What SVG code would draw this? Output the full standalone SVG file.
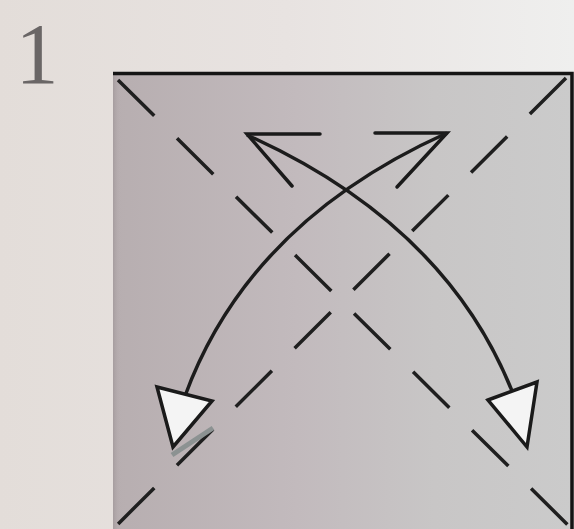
<svg xmlns="http://www.w3.org/2000/svg" width="574" height="529" viewBox="0 0 574 529">
  <defs>
    <linearGradient id="bg" x1="0" y1="0" x2="1" y2="0">
      <stop offset="0" stop-color="#e3ddd9"/>
      <stop offset="0.5" stop-color="#e8e3e1"/>
      <stop offset="1" stop-color="#efefee"/>
    </linearGradient>
    <linearGradient id="paperFill" gradientUnits="userSpaceOnUse" x1="113" y1="0" x2="572" y2="0">
      <stop offset="0" stop-color="#b7aeb0"/>
      <stop offset="0.4" stop-color="#c2babd"/>
      <stop offset="0.7" stop-color="#c8c6c6"/>
      <stop offset="1" stop-color="#cbcbcb"/>
    </linearGradient>
    <linearGradient id="edgeShade" x1="0" y1="0" x2="1" y2="0">
      <stop offset="0" stop-color="#a69d9f"/>
      <stop offset="1" stop-color="#b7aeb0" stop-opacity="0"/>
    </linearGradient>
  </defs>
  <style>
    .edge { stroke: #151515; stroke-width: 3.5; fill: none; }
    .fold { stroke: #1f1f1f; stroke-width: 3.5; fill: none; stroke-dasharray: 51 32; }
    .arc { stroke: #1c1c1c; stroke-width: 3.5; fill: none; }
    .mark { stroke: #1a1a1a; stroke-width: 3.5; fill: none; stroke-linecap: round; }
    .head { fill: #f4f4f4; stroke: #1a1a1a; stroke-width: 3.5; stroke-linejoin: miter; }
    .num { font-family: "Liberation Serif", "DejaVu Serif", serif; font-size: 86px; fill: #6a6666; }
  </style>
  <rect width="574" height="529" fill="url(#bg)"/>

  <g id="step-label">
    <text class="num" x="37" y="83" text-anchor="middle">1</text>
  </g>

  <g id="paper">
    <rect x="113" y="73" width="459" height="456" fill="url(#paperFill)"/>
    <rect x="113" y="73" width="8" height="456" fill="url(#edgeShade)"/>
    <path class="edge" d="M113,73.5 H572 V529"/>
  </g>

  <g id="fold-lines">
    <line class="fold" x1="118" y1="80" x2="572" y2="529"/>
    <line class="fold" x1="566" y1="78" x2="110" y2="532"/>
  </g>

  <g id="connectors">
    <g id="arrow-right">
      <path class="mark" d="M320,134 H247 L292,186"/>
      <path class="arc" d="M247,135 Q445,224 512,391"/>
      <polygon class="head" points="488,400 537,382 527,447"/>
    </g>
    <g id="arrow-left">
      <path class="mark" d="M375,133 H447 L397,187"/>
      <path class="arc" d="M447,133 Q249,222 185,396"/>
      <polygon class="head" points="157,387 212,401 173,447"/>
      <line x1="172" y1="455" x2="213" y2="428" stroke="#8c9292" stroke-width="5"/>
    </g>
  </g>
</svg>
